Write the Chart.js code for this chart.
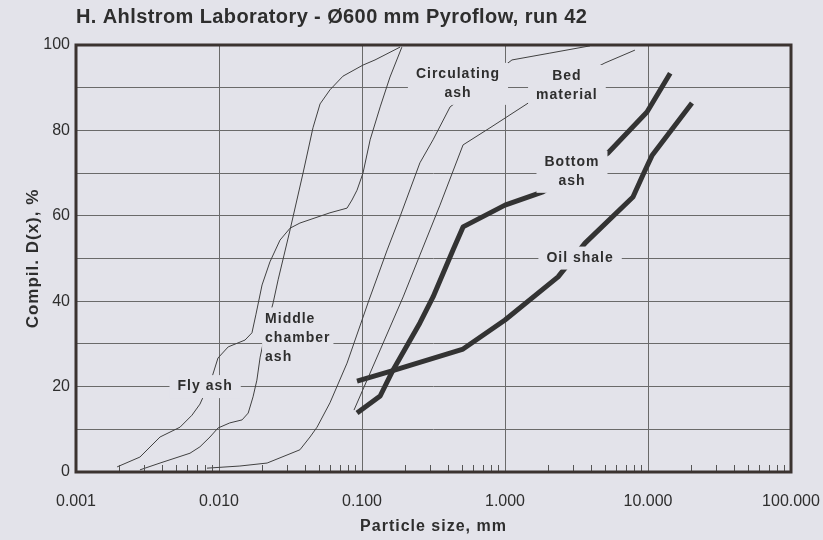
<!DOCTYPE html>
<html>
<head>
<meta charset="utf-8">
<script src="https://cdn.jsdelivr.net/npm/chart.js@4.4.0/dist/chart.umd.min.js"></script>
<style>
  html, body { margin: 0; padding: 0; background: #e3e3ea; }
  #wrap { width: 823px; height: 540px; }
</style>
</head>
<body>
<div id="wrap"><canvas id="psd" width="823" height="540"></canvas></div>
<script>
// Particle size distributions, H. Ahlstrom lab, Pyroflow run 42
// sizes in mm, cumulative D(x) in %
const xTicks = [0.001, 0.01, 0.1, 1, 10, 100];

const flyAshSize = [0.00194, 0.0028, 0.00387, 0.00534, 0.00647, 0.00736, 0.00893, 0.00984, 0.0116, 0.0152, 0.0170, 0.0181, 0.0200, 0.0227, 0.0267, 0.0314, 0.0368, 0.0597, 0.0786, 0.0851, 0.0923, 0.1016, 0.114, 0.134, 0.157, 0.19];
const flyAshPct  = [1.2, 3.5, 8.2, 10.5, 13.3, 15.9, 22.2, 26.7, 29.3, 30.9, 32.6, 36.8, 43.8, 49.2, 54.3, 57.1, 58.3, 60.7, 61.8, 63.7, 66.0, 70.0, 77.8, 85.5, 92.5, 99.5];

const middleSize = [0.0028, 0.00387, 0.00627, 0.00736, 0.00865, 0.00984, 0.0119, 0.0145, 0.0160, 0.0173, 0.0184, 0.0194, 0.0213, 0.0239, 0.0259, 0.0285, 0.0314, 0.0387, 0.0454, 0.0509, 0.0597, 0.0736, 0.1016, 0.1233, 0.1449, 0.1844];
const middlePct  = [0.5, 2.1, 4.4, 5.9, 8.2, 10.3, 11.5, 12.2, 13.8, 17.6, 21.5, 26.9, 33.3, 39.6, 45.0, 50.8, 56.7, 70.0, 80.6, 86.2, 89.5, 92.7, 95.3, 96.5, 97.7, 99.5];

const circSize = [0.00824, 0.0140, 0.0217, 0.0368, 0.0433, 0.0485, 0.0597, 0.0786, 0.112, 0.150, 0.184, 0.254, 0.314, 0.413, 1.119, 2.06, 3.93];
const circPct  = [0.9, 1.4, 2.1, 5.2, 8.2, 10.5, 16.2, 25.5, 40.3, 52.0, 59.7, 72.4, 77.8, 85.5, 96.5, 98.1, 99.8];

const bedSize = [0.0879, 0.134, 0.194, 0.254, 0.351, 0.509, 0.785, 1.50, 5.0, 8.1];
const bedPct  = [14.5, 28.6, 41.0, 50.8, 62.5, 76.6, 80.6, 86.7, 95.8, 98.8];

const bottomSize = [0.0923, 0.134, 0.162, 0.254, 0.314, 0.433, 0.509, 1.0, 1.84, 5.25, 9.84, 14.3];
const bottomPct  = [13.8, 17.8, 23.4, 34.9, 41.0, 52.0, 57.4, 62.5, 65.6, 74.7, 84.3, 93.4];

const shaleSize = [0.0923, 0.162, 0.509, 1.0, 2.35, 3.63, 7.85, 9.23, 10.7, 20.3];
const shalePct  = [21.3, 23.7, 28.8, 35.6, 45.7, 53.6, 64.4, 69.6, 74.2, 86.4];

// curve names written on the plot (anchor in data units)
const curveLabels = [
  { lines: ['Fly ash'], x: 0.008, y: 20, align: 'center' },
  { lines: ['Middle', 'chamber', 'ash'], x: 0.021, y: 31.4, align: 'left' },
  { lines: ['Circulating', 'ash'], x: 0.469, y: 90.9, align: 'center' },
  { lines: ['Bed', 'material'], x: 2.71, y: 90.4, align: 'center' },
  { lines: ['Bottom', 'ash'], x: 2.94, y: 70.3, align: 'center' },
  { lines: ['Oil shale'], x: 3.35, y: 50.1, align: 'center' }
];

const paper = '#e3e3ea';
const ink = '#2e2e2e';
const fontFam = '"Liberation Sans", Arial, sans-serif';

function pts(xs, ys) {
  return xs.map((x, i) => ({ x: x, y: ys[i] }));
}
function thinLine(label, xs, ys) {
  return { label: label, data: pts(xs, ys), borderColor: '#404040', borderWidth: 1,
           pointRadius: 0, tension: 0, fill: false };
}
function thickLine(label, xs, ys) {
  return { label: label, data: pts(xs, ys), borderColor: '#333', borderWidth: 5,
           borderJoinStyle: 'round', pointRadius: 0, tension: 0, fill: false };
}

const decorations = {
  id: 'decorations',
  afterDatasetsDraw(chart) {
    const { ctx, chartArea: a, scales: { x, y } } = chart;
    ctx.save();
    // small log ticks on bottom axis
    ctx.strokeStyle = '#555';
    ctx.lineWidth = 1;
    for (let d = 0; d < xTicks.length - 1; d++) {
      for (let k = 2; k < 10; k++) {
        const px = Math.round(x.getPixelForValue(xTicks[d] * k)) + 0.5;
        ctx.beginPath();
        ctx.moveTo(px, a.bottom);
        ctx.lineTo(px, a.bottom - 7);
        ctx.stroke();
      }
    }
    // curve labels with paper-coloured boxes
    ctx.font = 'bold 14px ' + fontFam;
    ctx.letterSpacing = '1px';
    ctx.textBaseline = 'middle';
    const lh = 19;
    curveLabels.forEach(l => {
      const cx = x.getPixelForValue(l.x);
      const cy = y.getPixelForValue(l.y);
      const w = Math.max(...l.lines.map(t => ctx.measureText(t).width));
      const h = l.lines.length * lh;
      const padX = l.align === 'left' ? 3 : 8;
      const left = l.align === 'left' ? cx : cx - w / 2;
      ctx.fillStyle = paper;
      ctx.fillRect(left - padX, cy - h / 2 - 2, w + padX * 2, h + 4);
      ctx.fillStyle = ink;
      ctx.textAlign = l.align;
      l.lines.forEach((t, i) => {
        ctx.fillText(t, cx, cy + (i - (l.lines.length - 1) / 2) * lh);
      });
    });
    ctx.restore();
  },
  afterDraw(chart) {
    const { ctx, chartArea: a } = chart;
    ctx.save();
    ctx.strokeStyle = '#3b3330';
    ctx.lineWidth = 3;
    ctx.strokeRect(a.left, a.top, a.right - a.left, a.bottom - a.top);

    ctx.fillStyle = ink;
    ctx.textBaseline = 'middle';
    ctx.letterSpacing = '0.4px';
    ctx.font = 'bold 20px ' + fontFam;
    ctx.textAlign = 'left';
    ctx.fillText('H. Ahlstrom Laboratory - Ø600 mm Pyroflow, run 42', a.left, 17);

    ctx.letterSpacing = '1px';
    ctx.font = 'bold 16px ' + fontFam;
    ctx.textAlign = 'center';
    ctx.fillText('Particle size, mm', (a.left + a.right) / 2, 527);
    ctx.font = 'bold 17px ' + fontFam;
    ctx.translate(33, (a.top + a.bottom) / 2);
    ctx.rotate(-Math.PI / 2);
    ctx.fillText('Compil. D(x), %', 0, 0);
    ctx.restore();
  }
};

new Chart(document.getElementById('psd'), {
  type: 'line',
  data: {
    datasets: [
      thinLine('Fly ash', flyAshSize, flyAshPct),
      thinLine('Middle chamber ash', middleSize, middlePct),
      thinLine('Circulating ash', circSize, circPct),
      thinLine('Bed material', bedSize, bedPct),
      thickLine('Bottom ash', bottomSize, bottomPct),
      thickLine('Oil shale', shaleSize, shalePct)
    ]
  },
  options: {
    responsive: false,
    animation: false,
    devicePixelRatio: 1,
    layout: { padding: { top: 45, right: 32, left: 0, bottom: 0 } },
    plugins: { legend: { display: false }, tooltip: { enabled: false } },
    scales: {
      x: {
        type: 'logarithmic',
        min: 0.001,
        max: 100,
        afterBuildTicks: s => { s.ticks = xTicks.map(v => ({ value: v })); },
        afterFit: s => { s.height = 68; s.paddingLeft = 0; s.paddingRight = 0; },
        ticks: {
          callback: v => Number(v).toFixed(3),
          autoSkip: false, maxRotation: 0, padding: 20,
          color: ink, font: { family: fontFam, size: 16 }
        },
        grid: { color: '#6a6a6a', lineWidth: 1, drawTicks: false },
        border: { display: false }
      },
      y: {
        min: 0,
        max: 100,
        afterFit: s => { s.width = 76; s.paddingTop = 0; s.paddingBottom = 0; },
        ticks: {
          stepSize: 10,
          callback: v => (v % 20 === 0 ? v : ''),
          padding: 6,
          color: ink, font: { family: fontFam, size: 16 }
        },
        grid: { color: '#6a6a6a', lineWidth: 1, drawTicks: false },
        border: { display: false }
      }
    }
  },
  plugins: [decorations]
});
</script>
</body>
</html>
